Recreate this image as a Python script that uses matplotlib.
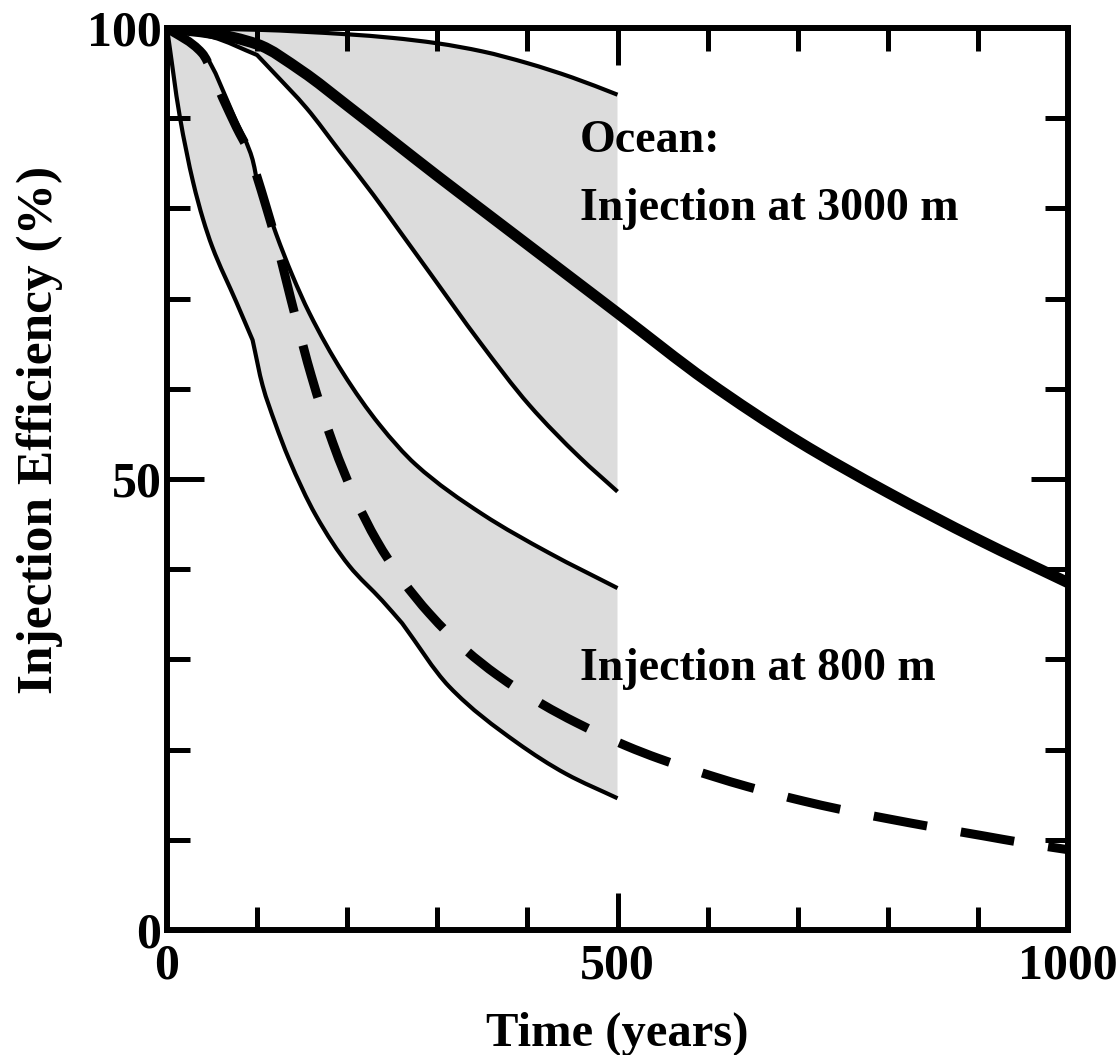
import numpy as np
import matplotlib
matplotlib.use("Agg")
import matplotlib.pyplot as plt
from matplotlib.path import Path
from matplotlib.patches import PathPatch
from matplotlib.ticker import MultipleLocator

# ---- data (time in years, efficiency in %) ----
# Ocean, injection at 3000 m: central estimate (thick line)
t_3000 = [0, 50, 100, 150, 200, 250, 300, 350, 400, 450, 500, 600, 700, 800, 900, 1000]
y_3000 = [100, 99.4, 98.2, 95.2, 91.4, 87.5, 83.6, 79.8, 76.0, 72.2, 68.4, 60.8, 54.2, 48.5, 43.3, 38.5]

# 3000 m range: upper and lower bound (0-500 yr)
t_3000_hi = [0, 100, 200, 250, 300, 350, 400, 450, 500]
y_3000_hi = [100, 99.8, 99.3, 98.9, 98.3, 97.4, 96.1, 94.5, 92.6]
t_3000_lo = [0, 50, 100, 118, 155, 192, 229, 258, 292, 347, 402, 458, 500]
y_3000_lo = [100, 99.0, 97.0, 95.1, 91.1, 86.3, 81.5, 77.5, 72.8, 65.2, 58.2, 52.4, 48.6]
kinks_3000_lo = [2]

# Ocean, injection at 800 m: central estimate (dashed line)
t_800 = [0, 39, 62, 77, 92, 99, 110, 121, 143, 160, 184, 210, 232, 261, 291, 332, 366, 417,
         454, 510, 546, 607, 644, 706, 746, 807, 845, 908, 948, 1000]
y_800 = [100, 97.2, 92.2, 89.0, 86.0, 83.8, 80.2, 76.4, 67.8, 61.5, 54.0, 47.6, 43.3, 38.8,
         35.1, 31.0, 28.3, 25.0, 23.0, 20.4, 19.0, 17.0, 15.9, 14.3, 13.4, 12.2, 11.5, 10.4, 9.7, 8.9]

# 800 m range: upper and lower bound (0-500 yr)
t_800_hi = [0, 20, 40, 77, 95, 99, 113, 121, 139, 158, 195, 236, 276, 350, 424, 500]
y_800_hi = [100, 99.0, 97.3, 89.6, 85.4, 83.5, 79.5, 77.2, 72.6, 68.4, 61.8, 56.0, 51.6, 46.1, 41.8, 37.9]
kinks_800_hi = [5]
t_800_lo = [0, 14, 29, 40, 50, 77, 95, 106, 120, 135, 165, 202, 239, 261, 313, 388, 443, 500]
y_800_lo = [100, 90.3, 82.9, 78.8, 75.8, 69.6, 65.4, 60.4, 56.2, 52.3, 46.0, 40.4, 36.5, 34.0, 27.0, 20.8, 17.3, 14.6]
kinks_800_lo = [6, 13]

labels = ["Ocean:", "Injection at 3000 m", "Injection at 800 m"]

FONT = "Liberation Serif"
BAND = "#dcdcdc"


def slopes(t, y, kinks=()):
    """monotone (pchip style) tangents; kinks get separate left/right tangents"""
    t = np.asarray(t, float)
    y = np.asarray(y, float)
    h = np.diff(t)
    d = np.diff(y) / h
    n = len(t)
    left = np.zeros(n)
    right = np.zeros(n)
    for k in range(n):
        if k == 0:
            left[k] = right[k] = d[0]
        elif k == n - 1:
            left[k] = right[k] = d[-1]
        elif k in kinks:
            left[k], right[k] = d[k - 1], d[k]
        else:
            if d[k - 1] * d[k] <= 0:
                m = 0.0
            else:
                w1 = 2 * h[k] + h[k - 1]
                w2 = h[k] + 2 * h[k - 1]
                m = (w1 + w2) / (w1 / d[k - 1] + w2 / d[k])
            left[k] = right[k] = m
    return t, y, left, right


def bezier_segments(t, y, kinks=()):
    t, y, ml, mr = slopes(t, y, kinks)
    segs = []
    for i in range(len(t) - 1):
        h = t[i + 1] - t[i]
        segs.append([(t[i], y[i]),
                     (t[i] + h / 3, y[i] + mr[i] * h / 3),
                     (t[i + 1] - h / 3, y[i + 1] - ml[i + 1] * h / 3),
                     (t[i + 1], y[i + 1])])
    return segs


def curve_path(t, y, kinks=()):
    segs = bezier_segments(t, y, kinks)
    verts = [segs[0][0]]
    codes = [Path.MOVETO]
    for s in segs:
        verts += s[1:]
        codes += [Path.CURVE4] * 3
    return Path(verts, codes)


def band_path(t1, y1, k1, t2, y2, k2):
    upper = bezier_segments(t1, y1, k1)
    lower = [s[::-1] for s in bezier_segments(t2, y2, k2)[::-1]]
    verts = [upper[0][0]]
    codes = [Path.MOVETO]
    for s in upper:
        verts += s[1:]
        codes += [Path.CURVE4] * 3
    verts.append(lower[0][0])
    codes.append(Path.LINETO)
    for s in lower:
        verts += s[1:]
        codes += [Path.CURVE4] * 3
    verts.append(verts[0])
    codes.append(Path.CLOSEPOLY)
    return Path(verts, codes)


fig = plt.figure(figsize=(11.2, 10.55), dpi=100)
ax = fig.add_axes([0.1491, 0.1185, 0.8045, 0.855])

# shaded ranges
ax.add_patch(PathPatch(band_path(t_3000_hi, y_3000_hi, (), t_3000_lo, y_3000_lo, kinks_3000_lo),
                       facecolor=BAND, edgecolor="none", zorder=1))
ax.add_patch(PathPatch(band_path(t_800_hi, y_800_hi, kinks_800_hi, t_800_lo, y_800_lo, kinks_800_lo),
                       facecolor=BAND, edgecolor="none", zorder=1))

# bounds
for t, y, k in [(t_3000_hi, y_3000_hi, ()), (t_3000_lo, y_3000_lo, kinks_3000_lo),
                (t_800_hi, y_800_hi, kinks_800_hi), (t_800_lo, y_800_lo, kinks_800_lo)]:
    ax.add_patch(PathPatch(curve_path(t, y, k), facecolor="none", edgecolor="black",
                           lw=3.0, capstyle="butt", joinstyle="round", zorder=2))

# central estimates
ax.add_patch(PathPatch(curve_path(t_3000, y_3000), facecolor="none", edgecolor="black",
                       lw=8, capstyle="butt", zorder=3))
ax.add_patch(PathPatch(curve_path(t_800, y_800), facecolor="none", edgecolor="black",
                       lw=6.5, linestyle=(0, (6, 3.8)), capstyle="butt", zorder=3))

ax.set_xlim(0, 1000)
ax.set_ylim(0, 100)

ax.xaxis.set_major_locator(MultipleLocator(500))
ax.xaxis.set_minor_locator(MultipleLocator(100))
ax.yaxis.set_major_locator(MultipleLocator(50))
ax.yaxis.set_minor_locator(MultipleLocator(10))
ax.tick_params(which="both", direction="in", top=True, right=True, width=3.6, color="black")
ax.tick_params(which="major", length=26.5, pad=10)
ax.tick_params(which="minor", length=16.5)
ax.tick_params(axis="y", which="major", pad=4)

for s in ax.spines.values():
    s.set_linewidth(4.3)
    s.set_zorder(5)

for lab in ax.get_xticklabels() + ax.get_yticklabels():
    lab.set_family(FONT)
    lab.set_fontweight("bold")
    lab.set_fontsize(36)

ax.set_xlabel("Time (years)", family=FONT, fontweight="bold", fontsize=35)
ax.xaxis.set_label_coords(0.5, -0.09)
ax.set_ylabel("Injection Efficiency (%)", family=FONT, fontweight="bold", fontsize=37)
ax.yaxis.set_label_coords(-0.115, 0.554)

ax.text(458, 86.3, labels[0], family=FONT, fontweight="bold", fontsize=33, va="baseline")
ax.text(458, 78.7, labels[1], family=FONT, fontweight="bold", fontsize=33, va="baseline")
ax.text(458, 27.7, labels[2], family=FONT, fontweight="bold", fontsize=33, va="baseline")

fig.savefig("out.png", dpi=100)
